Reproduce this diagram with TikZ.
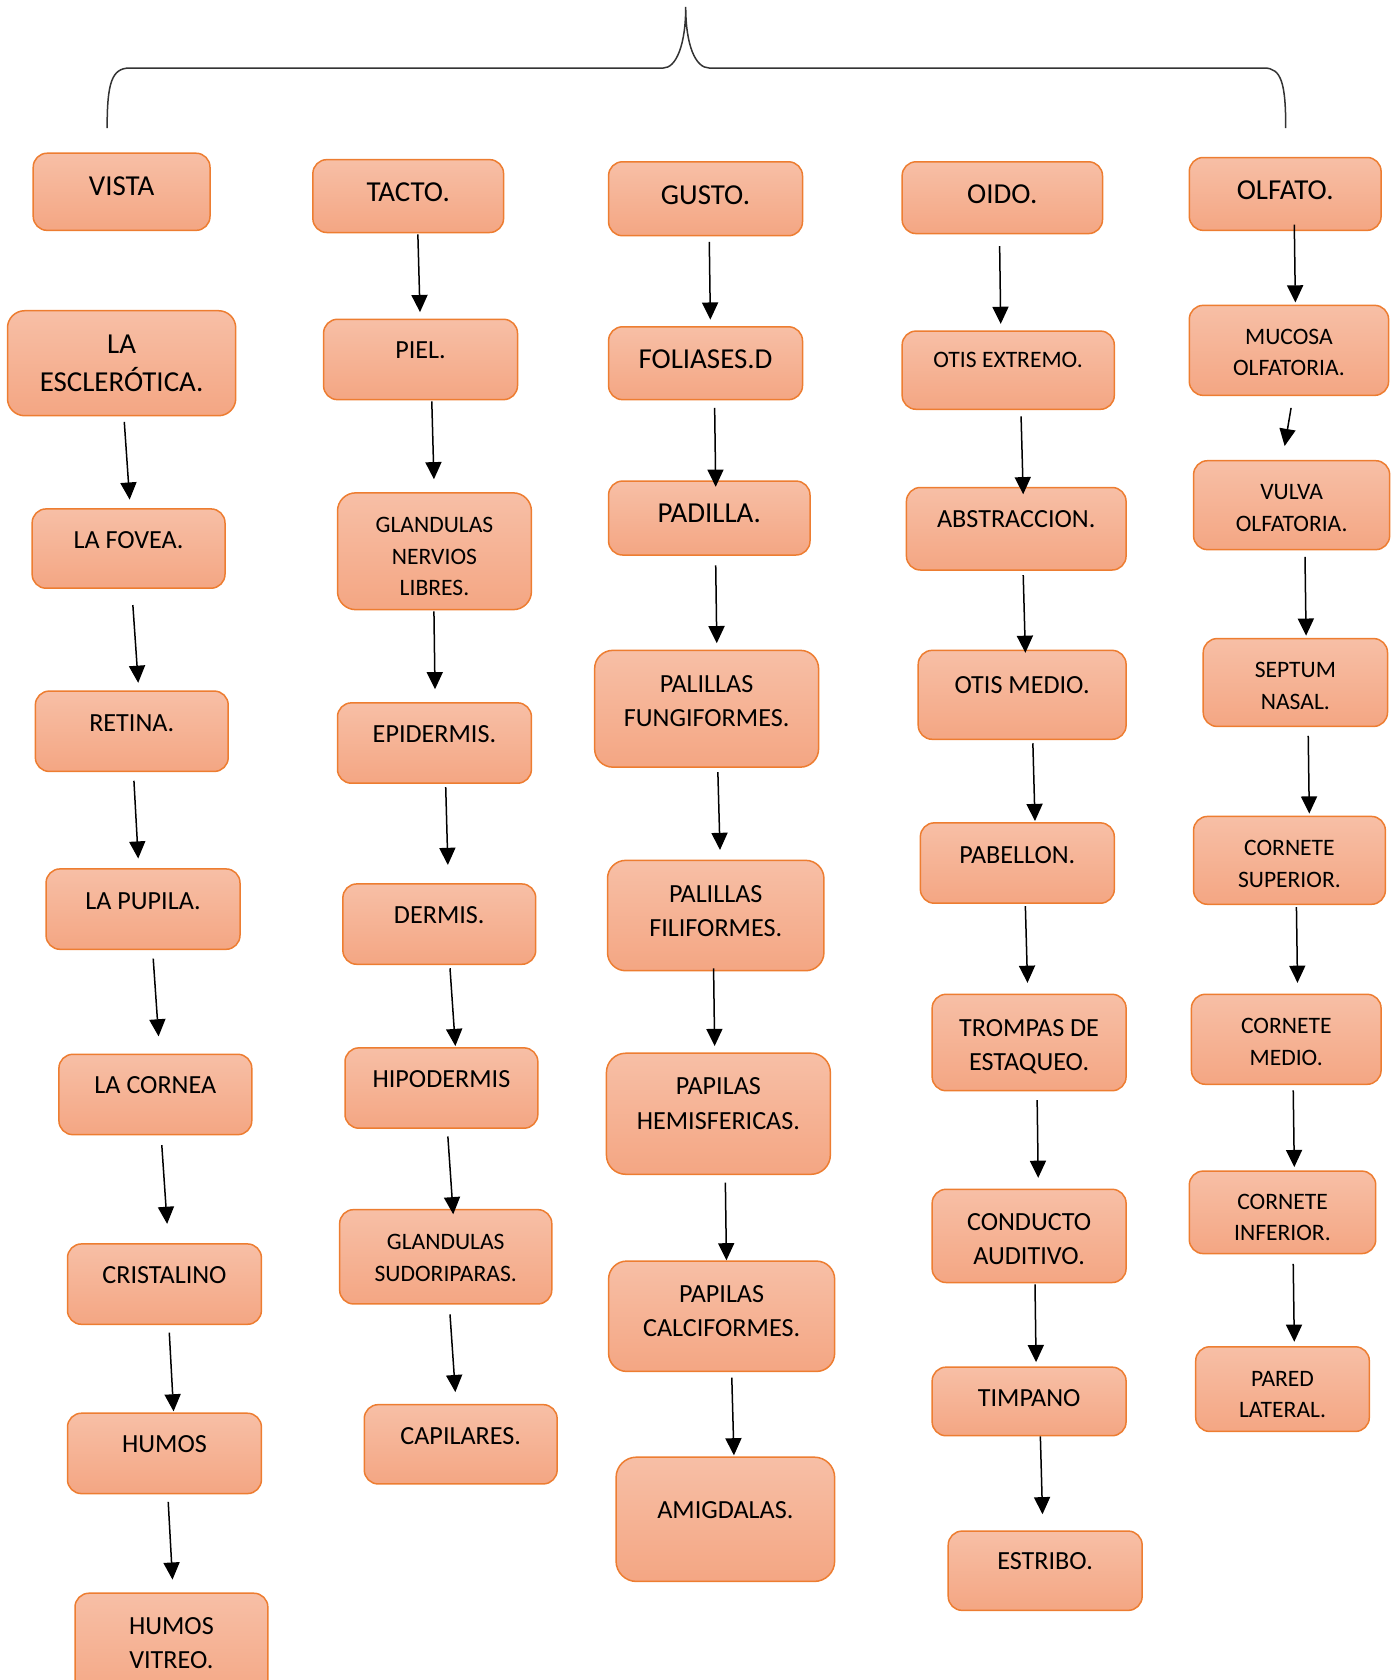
\documentclass[tikz,border=0pt]{standalone}
\usepackage{fontspec}
\setmainfont{Carlito}
\usetikzlibrary{arrows.meta}
\definecolor{boxtop}{HTML}{F7BFA6}
\definecolor{boxbot}{HTML}{F4A683}
\definecolor{boxline}{HTML}{ED7D31}
\tikzstyle{block} = [rectangle, rounded corners=6.5pt, draw=boxline, line width=0.7pt, top color=boxtop, bottom color=boxbot, align=center, inner sep=2pt, text=black, font=\fontsize{12.2}{16}\selectfont]
\tikzstyle{headtext} = [font=\fontsize{13.5}{18}\selectfont]
\tikzstyle{smalltext} = [font=\fontsize{11}{14.75}\selectfont]
\tikzstyle{arrow} = [line width=0.7pt, -{Triangle[width=7.5pt,length=8pt]}]
\tikzstyle{brace} = [line width=0.7pt, draw=black!80]
\tikzset{
  wh/.style 2 args={minimum width=#1*0.5pt, minimum height=#2*0.5pt},
  lift/.style={execute at end node={\rule[-#1]{0pt}{#1}}},
  drop/.style 2 args={execute at begin node={\rule{0pt}{\dimexpr\fontcharht\font`A+#1\baselineskip+#2\relax}}}
}

\begin{document}
\begin{tikzpicture}[x=0.5pt, y=-0.5pt]
	\useasboundingbox (0,0) rectangle (1303,1568);
	
	% Brace
	\draw [brace] (100,119.5) .. controls (100,78) and (104,63.5) .. (121,63.5) -- (619,63.5)
		.. controls (631,63.5) and (640,42) .. (640,6.5)
		.. controls (640,42) and (649,63.5) .. (662,63.5) -- (1180,63.5)
		.. controls (1196,63.5) and (1200,78) .. (1200,119.5);
	
	% Nodes: vista
	\node (vista) [block, headtext, wh={165}{72}, lift=5pt] at (113.5,179) {VISTA};
	\node (esclerotica) [block, headtext, wh={213}{98}, rounded corners=8pt] at (113.5,339) {LA\\ESCLERÓTICA.};
	\node (fovea) [block, wh={180}{74}, lift=8pt] at (120,512) {LA FOVEA.};
	\node (retina) [block, wh={180}{75}, lift=7.5pt] at (123,682.5) {RETINA.};
	\node (pupila) [block, wh={181}{75}, lift=7.5pt] at (133.5,848.5) {LA PUPILA.};
	\node (cornea) [block, wh={180}{75}, lift=8.5pt] at (145,1021.5) {LA CORNEA};
	\node (cristalino) [block, wh={181}{75}, lift=8.5pt] at (153.5,1198.5) {CRISTALINO};
	\node (humos) [block, wh={181}{75}, lift=8.5pt] at (153.5,1356.5) {HUMOS};
	\node (vitreo) [block, wh={180}{103}, lift=5pt] at (160,1538.5) {HUMOS\\VITREO.};
	
	% Nodes: tacto
	\node (tacto) [block, headtext, wh={178}{68}, lift=4pt] at (381,183) {TACTO.};
	\node (piel) [block, wh={181}{75}, lift=8.5pt] at (392.5,335.5) {PIEL.};
	\node (nervios) [block, smalltext, wh={181}{109}, rounded corners=8.5pt, drop={2}{5pt}] at (405.5,514.5) {GLANDULAS\\NERVIOS\\LIBRES.};
	\node (epidermis) [block, wh={181}{75}, lift=8.5pt] at (405.5,693.5) {EPIDERMIS.};
	\node (dermis) [block, wh={180}{75}, lift=8.5pt] at (410,862.5) {DERMIS.};
	\node (hipodermis) [block, wh={180}{75}, lift=8.5pt] at (412,1015.5) {HIPODERMIS};
	\node (sudoriparas) [block, smalltext, wh={198}{88}, drop={1}{1pt}] at (416,1173) {GLANDULAS\\SUDORIPARAS.};
	\node (capilares) [block, wh={180}{74}, lift=8pt] at (430,1348) {CAPILARES.};
	
	% Nodes: gusto
	\node (gusto) [block, headtext, wh={181}{69}, lift=3.5pt] at (658.5,185.5) {GUSTO.};
	\node (foliases) [block, headtext, wh={181}{68}, lift=4pt] at (658.5,339) {FOLIASES.D};
	\node (padilla) [block, headtext, wh={188}{69}, lift=4.5pt] at (662,483.5) {PADILLA.};
	\node (fungiformes) [block, wh={209}{109}, lift=7.5pt, rounded corners=8.5pt] at (659.5,661.5) {PALILLAS\\FUNGIFORMES.};
	\node (filiformes) [block, wh={202}{103}, lift=4.5pt, rounded corners=8.5pt] at (668,854.5) {PALILLAS\\FILIFORMES.};
	\node (hemisfericas) [block, wh={209}{113}, lift=9.5pt, rounded corners=9pt] at (670.5,1039.5) {PAPILAS\\HEMISFERICAS.};
	\node (calciformes) [block, wh={211}{103}, lift=5pt, rounded corners=8.5pt] at (673.5,1228.5) {PAPILAS\\CALCIFORMES.};
	\node (amigdalas) [block, wh={204}{116}, lift=9pt, rounded corners=9.5pt] at (677,1418) {AMIGDALAS.};
	
	% Nodes: oido
	\node (oido) [block, headtext, wh={187}{67}, lift=3.5pt] at (935.5,184.5) {OIDO.};
	\node (otisext) [block, smalltext, wh={198}{73}, lift=9.5pt] at (941,345.5) {OTIS EXTREMO.};
	\node (abstraccion) [block, wh={205}{77}, lift=9.5pt] at (948.5,493.5) {ABSTRACCION.};
	\node (otismedio) [block, wh={194}{83}, lift=9.5pt] at (954,648.5) {OTIS MEDIO.};
	\node (pabellon) [block, wh={181}{75}, lift=7.5pt] at (949.5,805.5) {PABELLON.};
	\node (trompas) [block, wh={181}{90}, drop={1}{4pt}] at (960.5,973) {TROMPAS DE\\ESTAQUEO.};
	\node (conducto) [block, wh={181}{87}, drop={1}{3pt}] at (960.5,1153.5) {CONDUCTO\\AUDITIVO.};
	\node (timpano) [block, wh={181}{64}, lift=3pt] at (960.5,1308) {TIMPANO};
	\node (estribo) [block, wh={181}{74}, lift=9pt] at (975.5,1466) {ESTRIBO.};
	
	% Nodes: olfato
	\node (olfato) [block, headtext, wh={179}{68}, lift=4pt] at (1199.5,181) {OLFATO.};
	\node (mucosa) [block, smalltext, wh={186}{84}, drop={1}{2pt}] at (1203,327) {MUCOSA\\OLFATORIA.};
	\node (vulva) [block, smalltext, wh={183}{83}, drop={1}{2.5pt}] at (1205.5,471.5) {VULVA\\OLFATORIA.};
	\node (septum) [block, smalltext, wh={172}{82}, drop={1}{3.5pt}] at (1209,637) {SEPTUM\\NASAL.};
	\node (superior) [block, smalltext, wh={179}{82}, drop={1}{3.5pt}] at (1203.5,803) {CORNETE\\SUPERIOR.};
	\node (cmedio) [block, smalltext, wh={177}{84}, drop={1}{2.5pt}] at (1200.5,970) {CORNETE\\MEDIO.};
	\node (inferior) [block, smalltext, wh={174}{77}, drop={1}{5pt}] at (1197,1131.5) {CORNETE\\INFERIOR.};
	\node (pared) [block, smalltext, wh={162}{79}, drop={1}{5pt}] at (1197,1296.5) {PARED\\LATERAL.};
	
	% Arrows: vista
	\draw [arrow] ([shift={(2.5,5)}]esclerotica.south) -- ([shift={(1,-8)}]fovea.north);
	\draw [arrow] ([shift={(4,15)}]fovea.south) -- ([shift={(6,-7)}]retina.north);
	\draw [arrow] ([shift={(2,8)}]retina.south) -- ([shift={(-4.5,-9)}]pupila.north);
	\draw [arrow] ([shift={(9.5,8)}]pupila.south) -- ([shift={(3,-16)}]cornea.north);
	\draw [arrow] ([shift={(6,9)}]cornea.south) -- ([shift={(2.5,-18)}]cristalino.north);
	\draw [arrow] ([shift={(4.5,7)}]cristalino.south) -- ([shift={(8.5,-1)}]humos.north);
	\draw [arrow] ([shift={(3.5,7)}]humos.south) -- ([shift={(1,-12)}]vitreo.north);
	
	% Arrows: tacto
	\draw [arrow] ([shift={(9,1)}]tacto.south) -- ([shift={(-0.5,-6)}]piel.north);
	\draw [arrow] ([shift={(10.5,1)}]piel.south) -- ([shift={(-0.5,-12)}]nervios.north);
	\draw [arrow] ([shift={(-0.5,1)}]nervios.south) -- ([shift={(0.5,-12)}]epidermis.north);
	\draw [arrow] ([shift={(10.5,3)}]epidermis.south) -- ([shift={(8,-17)}]dermis.north);
	\draw [arrow] ([shift={(10,3)}]dermis.south) -- ([shift={(13,-1)}]hipodermis.north);
	\draw [arrow] ([shift={(6,7)}]hipodermis.south) -- ([shift={(7,5)}]sudoriparas.north);
	\draw [arrow] ([shift={(4,9)}]sudoriparas.south) -- ([shift={(-5,-11)}]capilares.north);
	
	% Arrows: gusto
	\draw [arrow] ([shift={(3.5,5)}]gusto.south) -- ([shift={(4.5,-6)}]foliases.north);
	\draw [arrow] ([shift={(8.5,7)}]foliases.south) -- ([shift={(6,6)}]padilla.north);
	\draw [arrow] ([shift={(6,9)}]padilla.south) -- ([shift={(9.5,-6)}]fungiformes.north);
	\draw [arrow] ([shift={(10.5,4)}]fungiformes.south) -- ([shift={(4,-9)}]filiformes.north);
	\draw [arrow] ([shift={(-2,-3)}]filiformes.south) -- ([shift={(-3.5,-6)}]hemisfericas.north);
	\draw [arrow] ([shift={(6.5,7)}]hemisfericas.south) -- ([shift={(4.5,0)}]calciformes.north);
	\draw [arrow] ([shift={(9.5,5)}]calciformes.south) -- ([shift={(8,-1)}]amigdalas.north);
	
	% Arrows: oido
	\draw [arrow] ([shift={(-2.5,11)}]oido.south) -- ([shift={(-7,-6)}]otisext.north);
	\draw [arrow] ([shift={(12,6)}]otisext.south) -- ([shift={(6.5,7)}]abstraccion.north);
	\draw [arrow] ([shift={(6.5,4)}]abstraccion.south) -- ([shift={(3,3)}]otismedio.north);
	\draw [arrow] ([shift={(10,3)}]otismedio.south) -- ([shift={(16.5,-1)}]pabellon.north);
	\draw [arrow] ([shift={(7.5,2)}]pabellon.south) -- ([shift={(-1.5,-10)}]trompas.north);
	\draw [arrow] ([shift={(7.5,8)}]trompas.south) -- ([shift={(8.5,-10)}]conducto.north);
	\draw [arrow] ([shift={(5.5,1)}]conducto.south) -- ([shift={(6.5,-4)}]timpano.north);
	\draw [arrow] ([shift={(10.5,0)}]timpano.south) -- ([shift={(-2.5,-15)}]estribo.north);
	
	% Arrows: olfato
	\draw [arrow] ([shift={(8.5,-6)}]olfato.south) -- ([shift={(6,-2)}]mucosa.north);
	\draw [arrow] ([shift={(2,11)}]mucosa.south) -- ([shift={(-6.5,-13)}]vulva.north);
	\draw [arrow] ([shift={(12.5,6)}]vulva.south) -- ([shift={(10,-2)}]septum.north);
	\draw [arrow] ([shift={(12,8)}]septum.south) -- ([shift={(18.5,-2)}]superior.north);
	\draw [arrow] ([shift={(6.5,2)}]superior.south) -- ([shift={(10.5,-10)}]cmedio.north);
	\draw [arrow] ([shift={(6.5,5)}]cmedio.south) -- ([shift={(11,-3)}]inferior.north);
	\draw [arrow] ([shift={(10,9)}]inferior.south) -- ([shift={(11,-4)}]pared.north);
	
\end{tikzpicture}
\end{document}
